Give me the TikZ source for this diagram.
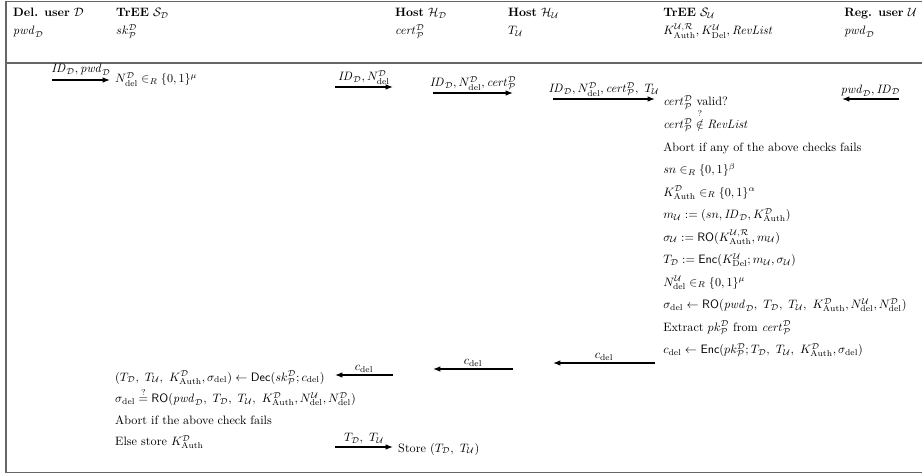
\documentclass[tikz,border=0pt]{standalone}
\usepackage{amsmath,amssymb}
\usetikzlibrary{arrows.meta}
\newcommand{\cD}{\mathcal{D}}
\newcommand{\cU}{\mathcal{U}}
\newcommand{\cP}{\mathcal{P}}
\newcommand{\del}{\mathrm{del}}
\newcommand{\Auth}{\mathrm{Auth}}
\newcommand{\cma}{,\ }
\begin{document}
\begin{tikzpicture}[x=0.8217pt,y=-0.8217pt,
  txt/.style={anchor=base west,inner sep=0pt},
  frame/.style={draw=black!60,line width=1.2pt},
  msg/.style={-{Latex[length=6pt,width=4.5pt]},line width=0.9pt},
  lbl/.style={above=2pt,inner sep=0pt}]
\useasboundingbox (0,0) rectangle (922,474);
% frame
\draw[frame] (6,1.5) -- (930,1.5);
\draw[frame] (6,63) -- (930,63);
\draw[frame] (6,472.5) -- (930,472.5);
\draw[frame] (6,0.9) -- (6,473.1);
% headers
\node[txt] (h1) at (13,16.5) {\textbf{Del. user} $\cD$};
\node[txt] (h2) at (116,16.5) {\textbf{TrEE} $\mathcal{S}_\cD$};
\node[txt] (h3) at (395,16.5) {\textbf{Host} $\mathcal{H}_\cD$};
\node[txt] (h4) at (508,16.5) {\textbf{Host} $\mathcal{H}_\cU$};
\node[txt] (h5) at (663,16.5) {\textbf{TrEE} $\mathcal{S}_\cU$};
\node[txt] (h6) at (844,16.5) {\textbf{Reg. user} $\cU$};
\node[txt] (k1) at (13,35) {$\mathit{pwd}_\cD$};
\node[txt] (k2) at (116,35) {$sk^\cD_\cP$};
\node[txt] (k3) at (395,35) {$\mathit{cert}^\cD_\cP$};
\node[txt] (k4) at (508,35) {$T_\cU$};
\node[txt] (k5) at (663,35) {$K^{\cU,\mathcal{R}}_\Auth, K^\cU_{\mathrm{Del}}, \mathit{RevList}$};
\node[txt] (k6) at (844,35) {$\mathit{pwd}_\cD$};
% top messages
\coordinate (m1s) at (52,80); \coordinate (m1e) at (110,80);
\draw[msg] (m1s) -- node[lbl,above=1pt]{$\mathit{ID}_\cD, \mathit{pwd}_\cD$} (m1e);
\node[txt] (n1) at (115,83) {$N^\cD_\del \in_R \{0,1\}^\mu$};
\coordinate (m2s) at (335,87); \coordinate (m2e) at (393,87);
\draw[msg] (m2s) -- node[lbl]{$\mathit{ID}_\cD, N^\cD_\del$} (m2e);
\coordinate (m3s) at (433,93); \coordinate (m3e) at (513,93);
\draw[msg] (m3s) -- node[lbl]{$\mathit{ID}_\cD, N^\cD_\del, \mathit{cert}^\cD_\cP$} (m3e);
\coordinate (m4s) at (553,99); \coordinate (m4e) at (655,99);
\draw[msg] (m4s) -- node[lbl]{$\mathit{ID}_\cD, N^\cD_\del, \mathit{cert}^\cD_\cP\cma T_\cU$} (m4e);
\coordinate (m5s) at (899,99); \coordinate (m5e) at (842,99);
\draw[msg] (m5s) -- node[lbl]{$\mathit{pwd}_\cD, \mathit{ID}_\cD$} (m5e);
% right column
\node[txt] (r1) at (663,106) {$\mathit{cert}^\cD_\cP$ valid?};
\node[txt] (r2) at (663,128.5) {$\mathit{cert}^\cD_\cP \stackrel{?}{\notin} \mathit{RevList}$};
\node[txt] (r3) at (663,151) {Abort if any of the above checks fails};
\node[txt] (r4) at (663,173.5) {$sn \in_R \{0,1\}^\beta$};
\node[txt] (r5) at (663,196) {$K^\cD_\Auth \in_R \{0,1\}^\alpha$};
\node[txt] (r6) at (663,218.5) {$m_\cU := (sn, \mathit{ID}_\cD, K^\cD_\Auth)$};
\node[txt] (r7) at (663,241) {$\sigma_\cU := \mathsf{RO}(K^{\cU,\mathcal{R}}_\Auth, m_\cU)$};
\node[txt] (r8) at (663,263.5) {$T_\cD := \mathsf{Enc}(K^\cU_{\mathrm{Del}}; m_\cU, \sigma_\cU)$};
\node[txt] (r9) at (663,286) {$N^\cU_\del \in_R \{0,1\}^\mu$};
\node[txt] (r10) at (663,308.5) {$\sigma_\del \leftarrow \mathsf{RO}(\mathit{pwd}_\cD\cma T_\cD\cma T_\cU\cma K^\cD_\Auth, N^\cU_\del, N^\cD_\del)$};
\node[txt] (r11) at (663,331) {Extract $pk^\cD_\cP$ from $\mathit{cert}^\cD_\cP$};
\node[txt] (r12) at (663,353.5) {$c_\del \leftarrow \mathsf{Enc}(pk^\cD_\cP; T_\cD\cma T_\cU\cma K^\cD_\Auth, \sigma_\del)$};
% bottom messages
\coordinate (b3s) at (655,363); \coordinate (b3e) at (553,363);
\draw[msg] (b3s) -- node[lbl]{$c_\del$} (b3e);
\coordinate (b2s) at (513,369); \coordinate (b2e) at (433,369);
\draw[msg] (b2s) -- node[lbl]{$c_\del$} (b2e);
\coordinate (b1s) at (393,375); \coordinate (b1e) at (335,375);
\draw[msg] (b1s) -- node[lbl]{$c_\del$} (b1e);
% left column
\node[txt] (l1) at (115,381) {$(T_\cD\cma T_\cU\cma K^\cD_\Auth, \sigma_\del) \leftarrow \mathsf{Dec}(sk^\cD_\cP; c_\del)$};
\node[txt] (l2) at (115,402.5) {$\sigma_\del \stackrel{?}{=} \mathsf{RO}(\mathit{pwd}_\cD\cma T_\cD\cma T_\cU\cma K^\cD_\Auth, N^\cU_\del, N^\cD_\del)$};
\node[txt] (l3) at (115,424) {Abort if the above check fails};
\node[txt] (l4) at (115,445.5) {Else store $K^\cD_\Auth$};
\coordinate (s1s) at (335,447); \coordinate (s1e) at (393,447);
\draw[msg] (s1s) -- node[lbl]{$T_\cD\cma T_\cU$} (s1e);
\node[txt] (st) at (398,452) {Store $(T_\cD\cma T_\cU)$};
\end{tikzpicture}
\end{document}
